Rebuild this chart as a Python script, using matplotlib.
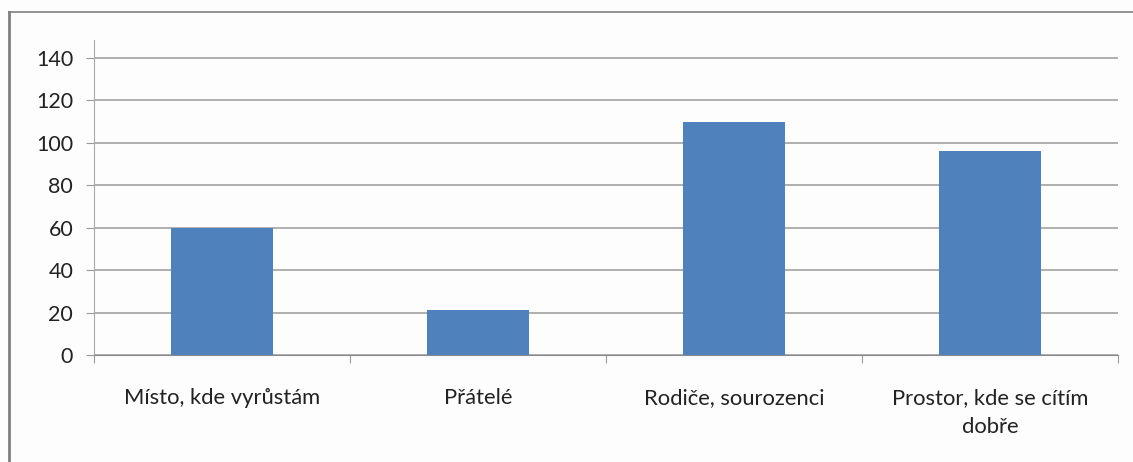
import numpy as np
import matplotlib.pyplot as plt
from matplotlib.lines import Line2D

# Data
categories = ["Místo, kde vyrůstám", "Přátelé", "Rodiče, sourozenci", "Prostor, kde se cítím\ndobře"]
values = [60, 21, 110, 96]
yticks = [0, 20, 40, 60, 80, 100, 120, 140]

plt.rcParams['font.family'] = ['Lato', 'DejaVu Sans']

fig = plt.figure(figsize=(11.33, 4.62), dpi=100)
fig.patch.set_facecolor('#fdfdfd')
ax = fig.add_axes([94 / 1133, 1 - 355 / 462, (1118 - 94) / 1133, (355 - 40) / 462])
ax.set_facecolor('#fdfdfd')

x = np.arange(len(categories))
ax.bar(x, values, width=0.4, color='#4f81bd', zorder=3)

ax.set_xlim(-0.5, len(categories) - 0.5)
ax.set_ylim(0, 140 * (355 - 40) / (355 - 58))
ax.set_yticks(yticks)
ax.set_yticklabels([str(v) for v in yticks], fontsize=15.5, color='#222222')
ax.yaxis.grid(True, color='#9a9a9a', linewidth=1.1, zorder=0)

# category ticks sit on boundaries, labels at centres
ax.set_xticks(np.arange(len(categories) + 1) - 0.5)
ax.set_xticklabels([''] * (len(categories) + 1))
ax.set_xticks(x, minor=True)
ax.set_xticklabels(categories, minor=True, fontsize=15.8, color='#222222', linespacing=1.55)
ax.tick_params(axis='x', which='minor', length=0, pad=24)
ax.tick_params(axis='x', which='major', length=6, color='#9a9a9a', direction='out')
ax.tick_params(axis='y', length=6, color='#9a9a9a', pad=9)

for s in ['top', 'right']:
    ax.spines[s].set_visible(False)
ax.spines['left'].set_color('#a8a8a8')
ax.spines['bottom'].set_color('#8a8a8a')

# outer chart frame
fig.add_artist(Line2D([9 / 1133, 9 / 1133], [0, 1 - 12 / 462], transform=fig.transFigure, color='#7f7f7f', linewidth=2))
fig.add_artist(Line2D([9 / 1133, 1], [1 - 12 / 462, 1 - 12 / 462], transform=fig.transFigure, color='#7f7f7f', linewidth=1.2))

fig.savefig('out.png', dpi=100, facecolor=fig.get_facecolor())
